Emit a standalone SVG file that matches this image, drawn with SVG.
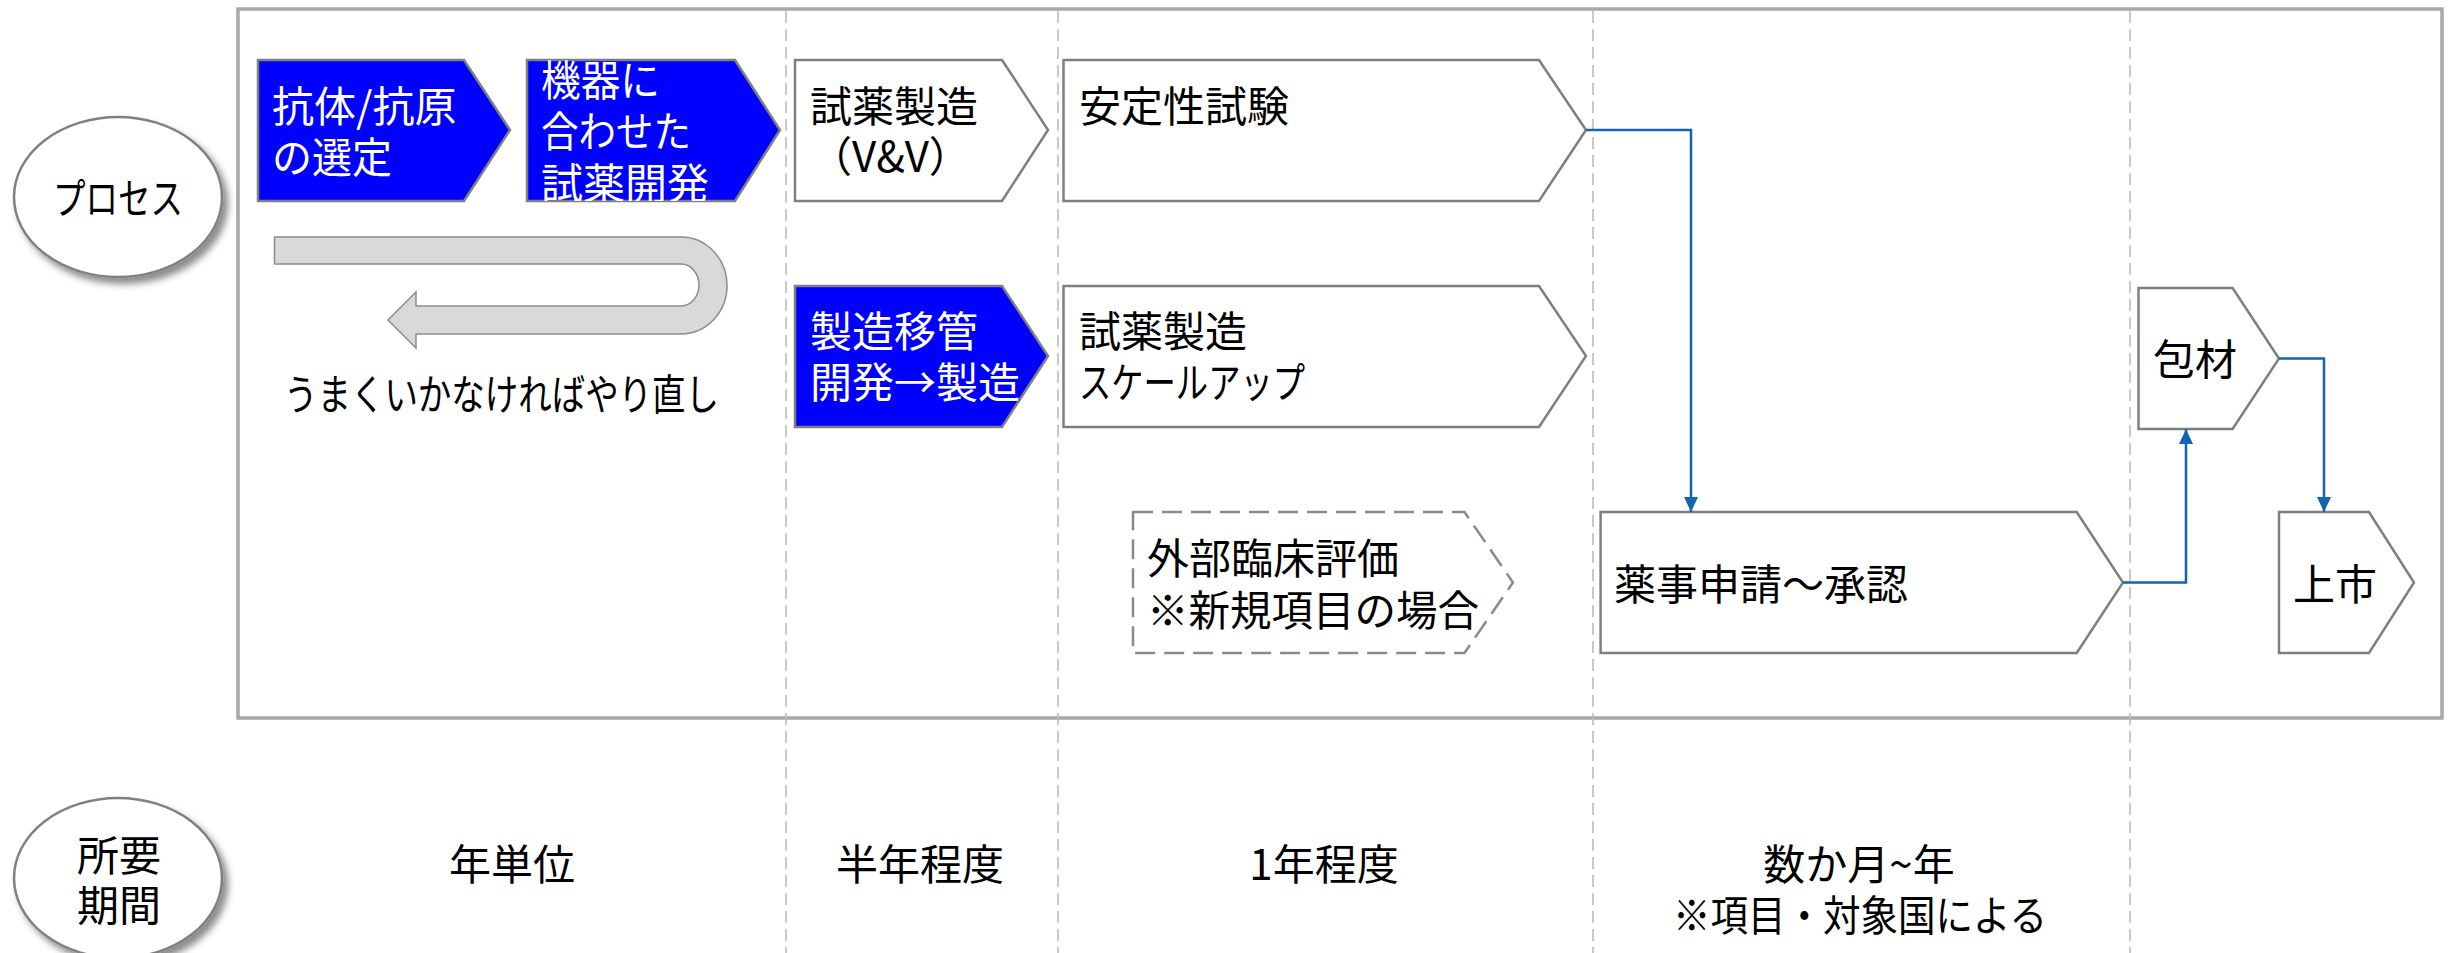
<svg xmlns="http://www.w3.org/2000/svg" width="2453" height="953" viewBox="0 0 2453 953">
<style>
text{font-family:"Noto Sans CJK JP","Noto Sans CJK SC",sans-serif;font-size:42px;fill:#000}
.w{fill:#fff}
.box{fill:#fff;stroke:#7f7f7f;stroke-width:2.5}
.blue{fill:#0000ff;stroke:#7f7f7f;stroke-width:2.5}
.dbox{fill:#fff;stroke:#8a8a8a;stroke-width:2.5;stroke-dasharray:20 9}
.vline{stroke:#b8b8b8;stroke-width:1.5;stroke-dasharray:12 6;fill:none}
.conn{fill:none;stroke:#1464b4;stroke-width:2.5}
.ell{fill:#fff;stroke:#808080;stroke-width:2.5;filter:url(#sh)}
.mid{text-anchor:middle}
</style>
<defs>
<filter id="sh" x="-20%" y="-20%" width="150%" height="150%">
<feDropShadow dx="5" dy="6" stdDeviation="3.5" flood-color="#000" flood-opacity="0.45"/>
</filter>
<marker id="ah" markerUnits="userSpaceOnUse" viewBox="0 0 15 14" refX="15" refY="7" markerWidth="15" markerHeight="14" orient="auto">
<path d="M0,0 L15,7 L0,14 z" fill="#1464b4"/>
</marker>
<clipPath id="c2"><polygon points="527,60 735,60 780,130 735,201 527,201"/></clipPath>
</defs>

<g id="frame">
<rect x="238" y="9" width="2204" height="709" fill="#fff" stroke="#a8a8a8" stroke-width="3.5"/>
</g>

<g id="dividers">
<line class="vline" x1="786" y1="11" x2="786" y2="953"/>
<line class="vline" x1="1058" y1="11" x2="1058" y2="953"/>
<line class="vline" x1="1593" y1="11" x2="1593" y2="953"/>
<line class="vline" x1="2130" y1="11" x2="2130" y2="953"/>
</g>

<g id="process-label">
<ellipse class="ell" cx="118" cy="197" rx="104" ry="80"/>
<text class="mid" x="118" y="214" textLength="130" lengthAdjust="spacingAndGlyphs">プロセス</text>
</g>

<g id="duration-label">
<ellipse class="ell" cx="118" cy="878" rx="104" ry="80"/>
<text class="mid"><tspan x="119" y="871">所要</tspan><tspan x="119" y="921">期間</tspan></text>
</g>

<g id="n-antibody">
<polygon class="blue" points="258,60 464,60 510,130 464,201 258,201"/>
<text class="w"><tspan x="272" y="122">抗体/抗原</tspan><tspan x="272" y="173" textLength="120" lengthAdjust="spacingAndGlyphs">の選定</tspan></text>
</g>

<g id="n-reagent-dev">
<polygon class="blue" points="527,60 735,60 780,130 735,201 527,201"/>
<text class="w" clip-path="url(#c2)"><tspan x="541" y="96" textLength="119" lengthAdjust="spacingAndGlyphs">機器に</tspan><tspan x="541" y="147" textLength="150" lengthAdjust="spacingAndGlyphs">合わせた</tspan><tspan x="541" y="199">試薬開発</tspan></text>
</g>

<g id="n-vv">
<polygon class="box" points="795,60 1002,60 1048,130 1002,201 795,201"/>
<text><tspan x="810" y="122">試薬製造</tspan><tspan x="810" y="172">（V&amp;V）</tspan></text>
</g>

<g id="n-stability">
<polygon class="box" points="1063.5,60 1539,60 1586,130 1539,201 1063.5,201"/>
<text x="1079" y="122">安定性試験</text>
</g>

<g id="n-transfer">
<polygon class="blue" points="795,286 1002,286 1048,356 1002,427 795,427"/>
<text class="w"><tspan x="810" y="347">製造移管</tspan><tspan x="810" y="398">開発→製造</tspan></text>
</g>

<g id="n-scaleup">
<polygon class="box" points="1063.5,286 1539,286 1586,356 1539,427 1063.5,427"/>
<text><tspan x="1079" y="347">試薬製造</tspan><tspan x="1079" y="398" textLength="226" lengthAdjust="spacingAndGlyphs">スケールアップ</tspan></text>
</g>

<g id="n-retry">
<path d="M274.5,237 H681 A46,48.5 0 0 1 681,334 H416 V348 L388,320 L416,292 V306 H681 A18,21 0 0 0 681,264 H274.5 Z" fill="#d9d9d9" stroke="#8c8c8c" stroke-width="1.5"/>
<text x="284" y="410" textLength="435" lengthAdjust="spacingAndGlyphs">うまくいかなければやり直し</text>
</g>

<g id="n-clinical">
<polygon class="dbox" points="1133,512 1464.5,512 1513,582.5 1464.5,653 1133,653"/>
<text><tspan x="1147" y="574">外部臨床評価</tspan><tspan x="1147" y="626" textLength="332" lengthAdjust="spacingAndGlyphs">※新規項目の場合</tspan></text>
</g>

<g id="n-approval">
<polygon class="box" points="1600.6,512 2076.7,512 2123,582.5 2076.7,653 1600.6,653"/>
<text x="1614" y="600">薬事申請～承認</text>
</g>

<g id="n-packaging">
<polygon class="box" points="2138.5,288 2232.6,288 2279,358.5 2232.6,429 2138.5,429"/>
<text x="2153" y="375">包材</text>
</g>

<g id="n-launch">
<polygon class="box" points="2279,512 2369,512 2414,582.5 2369,653 2279,653"/>
<text x="2293" y="600">上市</text>
</g>

<g id="durations">
<text class="mid" x="512" y="880">年単位</text>
<text class="mid" x="920" y="880">半年程度</text>
<text class="mid" x="1324" y="880">1年程度</text>
<text class="mid"><tspan x="1859" y="880">数か月~年</tspan><tspan x="1860" y="931" textLength="374" lengthAdjust="spacingAndGlyphs">※項目・対象国による</tspan></text>
</g>

<g id="connectors">
<path class="conn" d="M1586,130 H1691 V512" marker-end="url(#ah)"/>
<path class="conn" d="M2123,582.5 H2186 V429" marker-end="url(#ah)"/>
<path class="conn" d="M2279,358.5 H2324 V512" marker-end="url(#ah)"/>
</g>
</svg>
